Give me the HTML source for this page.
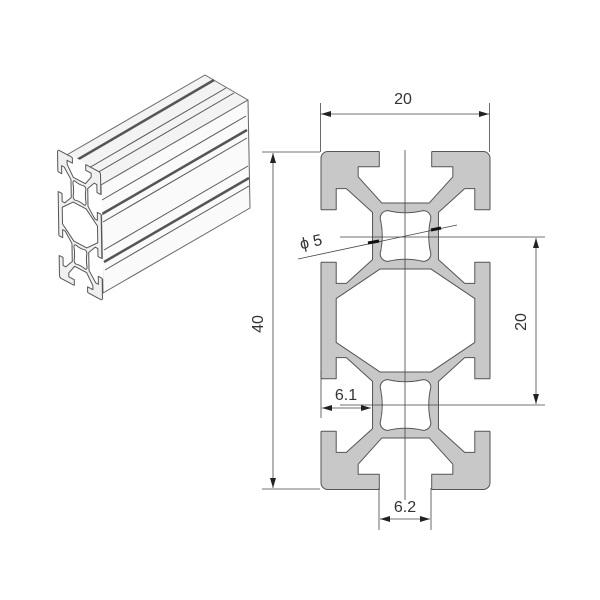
<!DOCTYPE html>
<html><head><meta charset="utf-8"><style>
html,body{margin:0;padding:0;background:#fff}
svg{display:block}
text{font-family:"Liberation Sans",Arial,sans-serif;fill:#333}
.pf{fill:var(--pf,#c8c8c8)}
</style></head><body>
<svg width="600" height="600" viewBox="0 0 600 600" xmlns="http://www.w3.org/2000/svg">
<defs>
<marker id="a" viewBox="0 0 10 6" refX="10" refY="3" markerWidth="10" markerHeight="6" orient="auto-start-reverse" markerUnits="userSpaceOnUse">
<path d="M0,0 L10,3 L0,6 Z" fill="#222"/></marker>
<g id="prof" stroke="#555" stroke-width="1" stroke-linejoin="round">
<rect class="pf" x="-10" y="-20" width="20" height="40" rx="0.8" vector-effect="non-scaling-stroke"/>
<g fill="#fff" stroke="none">
<polygon points="-3.1,-20.5 -3.1,-18.2 -5.6,-18.2 -5.6,-17 -2.8,-13.9 2.8,-13.9 5.6,-17 5.6,-18.2 3.1,-18.2 3.1,-20.5"/>
<polygon points="-3.1,20.5 -3.1,18.2 -5.6,18.2 -5.6,17 -2.8,13.9 2.8,13.9 5.6,17 5.6,18.2 3.1,18.2 3.1,20.5"/>
<polygon points="10.5,-13.1 8.2,-13.1 8.2,-15.6 7,-15.6 3.9,-12.8 3.9,-7.2 7,-4.4 8.2,-4.4 8.2,-6.9 10.5,-6.9"/>
<polygon points="-10.5,-13.1 -8.2,-13.1 -8.2,-15.6 -7,-15.6 -3.9,-12.8 -3.9,-7.2 -7,-4.4 -8.2,-4.4 -8.2,-6.9 -10.5,-6.9"/>
<polygon points="10.5,6.9 8.2,6.9 8.2,4.4 7,4.4 3.9,7.2 3.9,12.8 7,15.6 8.2,15.6 8.2,13.1 10.5,13.1"/>
<polygon points="-10.5,6.9 -8.2,6.9 -8.2,4.4 -7,4.4 -3.9,7.2 -3.9,12.8 -7,15.6 -8.2,15.6 -8.2,13.1 -10.5,13.1"/>
</g>
<g fill="none">
<polyline vector-effect="non-scaling-stroke" points="-3.1,-20 -3.1,-18.2 -5.6,-18.2 -5.6,-17 -2.8,-13.9 2.8,-13.9 5.6,-17 5.6,-18.2 3.1,-18.2 3.1,-20"/>
<polyline vector-effect="non-scaling-stroke" points="-3.1,20 -3.1,18.2 -5.6,18.2 -5.6,17 -2.8,13.9 2.8,13.9 5.6,17 5.6,18.2 3.1,18.2 3.1,20"/>
<polyline vector-effect="non-scaling-stroke" points="10,-13.1 8.2,-13.1 8.2,-15.6 7,-15.6 3.9,-12.8 3.9,-7.2 7,-4.4 8.2,-4.4 8.2,-6.9 10,-6.9"/>
<polyline vector-effect="non-scaling-stroke" points="-10,-13.1 -8.2,-13.1 -8.2,-15.6 -7,-15.6 -3.9,-12.8 -3.9,-7.2 -7,-4.4 -8.2,-4.4 -8.2,-6.9 -10,-6.9"/>
<polyline vector-effect="non-scaling-stroke" points="10,6.9 8.2,6.9 8.2,4.4 7,4.4 3.9,7.2 3.9,12.8 7,15.6 8.2,15.6 8.2,13.1 10,13.1"/>
<polyline vector-effect="non-scaling-stroke" points="-10,6.9 -8.2,6.9 -8.2,4.4 -7,4.4 -3.9,7.2 -3.9,12.8 -7,15.6 -8.2,15.6 -8.2,13.1 -10,13.1"/>
</g>
<polygon vector-effect="non-scaling-stroke" fill="#fff" points="-3,-6.1 3,-6.1 8.2,-2.6 8.2,2.6 3,6.1 -3,6.1 -8.2,2.6 -8.2,-2.6"/>
<path vector-effect="non-scaling-stroke" fill="#fff" d="M-2.1,-13 Q0,-12.5 2.1,-13 A0.9,0.9 0 0 1 3,-12.1 Q2.5,-10 3,-7.9 A0.9,0.9 0 0 1 2.1,-7 Q0,-7.5 -2.1,-7 A0.9,0.9 0 0 1 -3,-7.9 Q-2.5,-10 -3,-12.1 A0.9,0.9 0 0 1 -2.1,-13Z"/>
<path vector-effect="non-scaling-stroke" fill="#fff" d="M-2.1,7 Q0,7.5 2.1,7 A0.9,0.9 0 0 1 3,7.9 Q2.5,10 3,12.1 A0.9,0.9 0 0 1 2.1,13 Q0,12.5 -2.1,13 A0.9,0.9 0 0 1 -3,12.1 Q-2.5,10 -3,7.9 A0.9,0.9 0 0 1 -2.1,7Z"/>
</g>
</defs>

<!-- 3D view -->
<g stroke="#666" stroke-width="1" stroke-linejoin="round">
<polygon points="58,160 205,75 248,100 101,185" fill="#f3f3f3"/>
<polygon points="101,185 248,100 250,208 103,293" fill="#fafafa"/>
</g>
<g stroke="#555" fill="none">
<line x1="70" y1="164" x2="214" y2="80" stroke-width="2.5"/>
<line x1="82" y1="172" x2="226" y2="88" stroke-width="1"/>
<line x1="90" y1="177" x2="234" y2="93" stroke-width="1"/>
<line x1="102" y1="200" x2="246" y2="116" stroke-width="1"/>
<line x1="102" y1="214" x2="247" y2="130" stroke-width="2.5"/>
<line x1="103" y1="222" x2="247" y2="138" stroke-width="1"/>
<line x1="104" y1="250" x2="248" y2="166" stroke-width="1"/>
<line x1="104" y1="262" x2="249" y2="178" stroke-width="2.5"/>
<line x1="105" y1="270" x2="249" y2="186" stroke-width="1"/>
</g>
<use href="#prof" transform="matrix(2.15,1.15,0.05,3.2,80,225)" style="--pf:#f0f0f0"/>

<!-- profile -->
<use href="#prof" transform="translate(405.5,320.5) scale(8.45)"/>

<!-- dimension and center lines -->
<g stroke="#444" stroke-width="0.8" fill="none">
<line x1="405" y1="150" x2="405" y2="500"/>
<line x1="340" y1="237" x2="545" y2="237"/>
<line x1="340" y1="405" x2="545" y2="405"/>
<line x1="320.5" y1="103" x2="320.5" y2="152"/>
<line x1="489.5" y1="103" x2="489.5" y2="152"/>
<line x1="321" y1="114" x2="489" y2="114" marker-start="url(#a)" marker-end="url(#a)"/>
<line x1="262" y1="152" x2="320" y2="152"/>
<line x1="262" y1="489" x2="320" y2="489"/>
<line x1="273" y1="153" x2="273" y2="488" marker-start="url(#a)" marker-end="url(#a)"/>
<line x1="536" y1="238" x2="536" y2="404" marker-start="url(#a)" marker-end="url(#a)"/>
<line x1="321" y1="370" x2="321" y2="418"/>
<line x1="322" y1="408" x2="371" y2="408" marker-start="url(#a)" marker-end="url(#a)"/>
<line x1="379" y1="488" x2="379" y2="530"/>
<line x1="431" y1="488" x2="431" y2="530"/>
<line x1="380" y1="519" x2="430" y2="519" marker-start="url(#a)" marker-end="url(#a)"/>
<line x1="298" y1="259" x2="457" y2="225"/>
</g>
<g stroke="#111" stroke-width="3">
<line x1="368" y1="243" x2="379" y2="241"/>
<line x1="431" y1="230" x2="441" y2="228"/>
</g>
<g font-size="16">
<text x="403" y="104" text-anchor="middle">20</text>
<text x="346" y="400" text-anchor="middle">6.1</text>
<text x="405" y="512" text-anchor="middle">6.2</text>
<text transform="translate(263,324) rotate(-90)" text-anchor="middle">40</text>
<text transform="translate(526,322) rotate(-90)" text-anchor="middle">20</text>
<text transform="translate(312,247) rotate(-12)" text-anchor="middle">ϕ 5</text>
</g>
</svg>
</body></html>
